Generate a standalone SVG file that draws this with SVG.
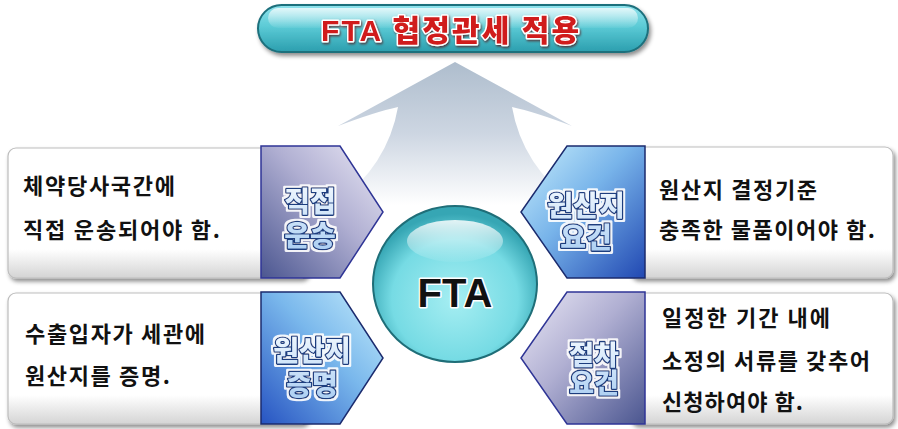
<svg xmlns="http://www.w3.org/2000/svg" width="898" height="429" viewBox="0 0 898 429">
<defs>
<linearGradient id="arrowG" x1="0" y1="62" x2="0" y2="205" gradientUnits="userSpaceOnUse"><stop offset="0" stop-color="#aebdcd"/><stop offset="0.5" stop-color="#cdd6e2"/><stop offset="1" stop-color="#ffffff"/></linearGradient>
<linearGradient id="boxG" x1="0" y1="0" x2="0" y2="1"><stop offset="0" stop-color="#ffffff"/><stop offset="0.78" stop-color="#ffffff"/><stop offset="1" stop-color="#d4d4d4"/></linearGradient>
<linearGradient id="pillG" x1="0" y1="0" x2="0" y2="1"><stop offset="0" stop-color="#8fe2ec"/><stop offset="0.45" stop-color="#5ccbd6"/><stop offset="1" stop-color="#2b9eae"/></linearGradient>
<linearGradient id="pillHi" x1="0" y1="0" x2="0" y2="1"><stop offset="0" stop-color="#ffffff" stop-opacity="0.75"/><stop offset="1" stop-color="#ffffff" stop-opacity="0.05"/></linearGradient>
<linearGradient id="tagLav" x1="1" y1="0" x2="0" y2="1"><stop offset="0" stop-color="#ebe9f6"/><stop offset="0.45" stop-color="#b0afd2"/><stop offset="1" stop-color="#4b5690"/></linearGradient>
<linearGradient id="tagBlue" x1="1" y1="0" x2="0" y2="1"><stop offset="0" stop-color="#c4ecfc"/><stop offset="0.45" stop-color="#7ab8ec"/><stop offset="1" stop-color="#2754c2"/></linearGradient>
<linearGradient id="tagBlueR" x1="0" y1="0" x2="1" y2="1"><stop offset="0" stop-color="#c8eefc"/><stop offset="0.45" stop-color="#78b4ea"/><stop offset="1" stop-color="#2148b2"/></linearGradient>
<linearGradient id="tagLavR" x1="0" y1="0" x2="1" y2="1"><stop offset="0" stop-color="#ebe9f6"/><stop offset="0.45" stop-color="#b0afd2"/><stop offset="1" stop-color="#4b5690"/></linearGradient>
<radialGradient id="ballG" cx="0.5" cy="0.6" r="0.55"><stop offset="0" stop-color="#a6eef2"/><stop offset="0.7" stop-color="#76dbe4"/><stop offset="1" stop-color="#36a6b4"/></radialGradient>
<linearGradient id="ballHi" x1="0" y1="0" x2="0" y2="1"><stop offset="0" stop-color="#ffffff" stop-opacity="0.85"/><stop offset="1" stop-color="#ffffff" stop-opacity="0.05"/></linearGradient>
<linearGradient id="tagTxt" x1="0" y1="0" x2="0" y2="1"><stop offset="0" stop-color="#f4faff"/><stop offset="1" stop-color="#a9cdf2"/></linearGradient>
<filter id="sh" x="-10%" y="-10%" width="130%" height="140%"><feDropShadow dx="2" dy="3" stdDeviation="2" flood-color="#000" flood-opacity="0.45"/></filter>
<filter id="tsh" x="-10%" y="-20%" width="130%" height="160%"><feDropShadow dx="1" dy="1.5" stdDeviation="1" flood-color="#5a0000" flood-opacity="0.7"/></filter>
<filter id="glow" x="-10%" y="-20%" width="120%" height="140%"><feMorphology in="SourceAlpha" operator="dilate" radius="2" result="d"/><feFlood flood-color="#ffffff" flood-opacity="0.9"/><feComposite in2="d" operator="in" result="w"/><feMerge><feMergeNode in="w"/><feMergeNode in="SourceGraphic"/></feMerge></filter>
</defs>
<style>
.box{fill:url(#boxG);stroke:#bdbdbd;stroke-width:1.2;filter:url(#sh)}
.body{font-family:"Noto Sans CJK KR","Noto Sans",sans-serif;font-weight:bold;font-size:22px;fill:#111}
.tagtxt{font-family:"Noto Sans CJK KR","Noto Sans",sans-serif;font-weight:900;font-size:28px;text-anchor:middle;fill:url(#tagTxt);stroke:#1d3c7e;stroke-width:2.6;paint-order:stroke;stroke-linejoin:round;filter:url(#glow)}
.tagL{stroke:#2f3596;stroke-width:1.5}
.tagB{stroke:#1b2b6e;stroke-width:1.5}
</style>
<rect width="898" height="429" fill="#ffffff"/>

<g id="connectors">
<path d="M455,62 L572,126 Q535,112 512,107 Q522,165 575,205 L575,270 L335,270 L335,205 Q388,165 398,107 Q375,112 338,126 Z" fill="url(#arrowG)"/>
</g>

<g id="title">
<rect x="258" y="5" width="390" height="47" rx="23.5" fill="url(#pillG)" stroke="#1d6f7c" stroke-width="2" filter="url(#sh)"/>
<rect x="268" y="8" width="370" height="20" rx="10" fill="url(#pillHi)"/>
<text x="450" y="41" text-anchor="middle" font-family="Liberation Sans,'Noto Sans CJK KR',sans-serif" font-weight="900" font-size="30" fill="#d01a1a" stroke="#ffffff" stroke-width="3" paint-order="stroke" stroke-linejoin="round" filter="url(#tsh)" textLength="258" lengthAdjust="spacing">FTA 협정관세 적용</text>
</g>

<g id="node-direct">
<rect class="box" x="8" y="148" width="300" height="130" rx="8"/>
<text class="body" x="23" y="194" textLength="152" lengthAdjust="spacing">체약당사국간에</text>
<text class="body" x="23" y="238" textLength="197" lengthAdjust="spacing">직접 운송되어야 함.</text>
<polygon class="tagL" points="261,146 340,146 383,212 340,278 261,278" fill="url(#tagLav)"/>
<text class="tagtxt" x="310" y="212">직접<tspan x="310" dy="34">운송</tspan></text>
</g>

<g id="node-origin-req">
<rect class="box" x="630" y="147" width="263" height="131" rx="8"/>
<text class="body" x="659" y="198" textLength="158" lengthAdjust="spacing">원산지 결정기준</text>
<text class="body" x="659" y="238" textLength="216" lengthAdjust="spacing">충족한 물품이어야 함.</text>
<polygon class="tagB" points="645,146 567,146 521,212 567,278 645,278" fill="url(#tagBlueR)"/>
<text class="tagtxt" x="586" y="216">원산지<tspan x="586" dy="32">요건</tspan></text>
</g>

<g id="node-proof">
<rect class="box" x="8" y="293" width="300" height="131" rx="8"/>
<text class="body" x="25" y="342" textLength="180" lengthAdjust="spacing">수출입자가 세관에</text>
<text class="body" x="25" y="384" textLength="145" lengthAdjust="spacing">원산지를 증명.</text>
<polygon class="tagB" points="261,292 340,292 383,358 340,424 261,424" fill="url(#tagBlue)"/>
<text class="tagtxt" x="312" y="361">원산지<tspan x="312" dy="34">증명</tspan></text>
</g>

<g id="node-procedure">
<rect class="box" x="630" y="293" width="263" height="131" rx="8"/>
<text class="body" x="662" y="326" textLength="168" lengthAdjust="spacing">일정한 기간 내에</text>
<text class="body" x="662" y="369" textLength="208" lengthAdjust="spacing">소정의 서류를 갖추어</text>
<text class="body" x="662" y="410" textLength="141" lengthAdjust="spacing">신청하여야 함.</text>
<polygon class="tagL" points="645,292 567,292 521,358 567,424 645,424" fill="url(#tagLavR)"/>
<text class="tagtxt" x="594" y="365" style="font-size:27px">절차<tspan x="594" dy="28">요건</tspan></text>
</g>

<g id="node-fta">
<ellipse cx="455" cy="284" rx="82" ry="78" fill="url(#ballG)" stroke="#1f6e78" stroke-width="2"/>
<ellipse cx="455" cy="241" rx="48" ry="21" fill="url(#ballHi)"/>
<text x="455" y="307" text-anchor="middle" font-family="Liberation Sans,sans-serif" font-weight="bold" font-size="40" fill="#111" stroke="#ffffff" stroke-width="3" paint-order="stroke" stroke-linejoin="round">FTA</text>
</g>
</svg>
